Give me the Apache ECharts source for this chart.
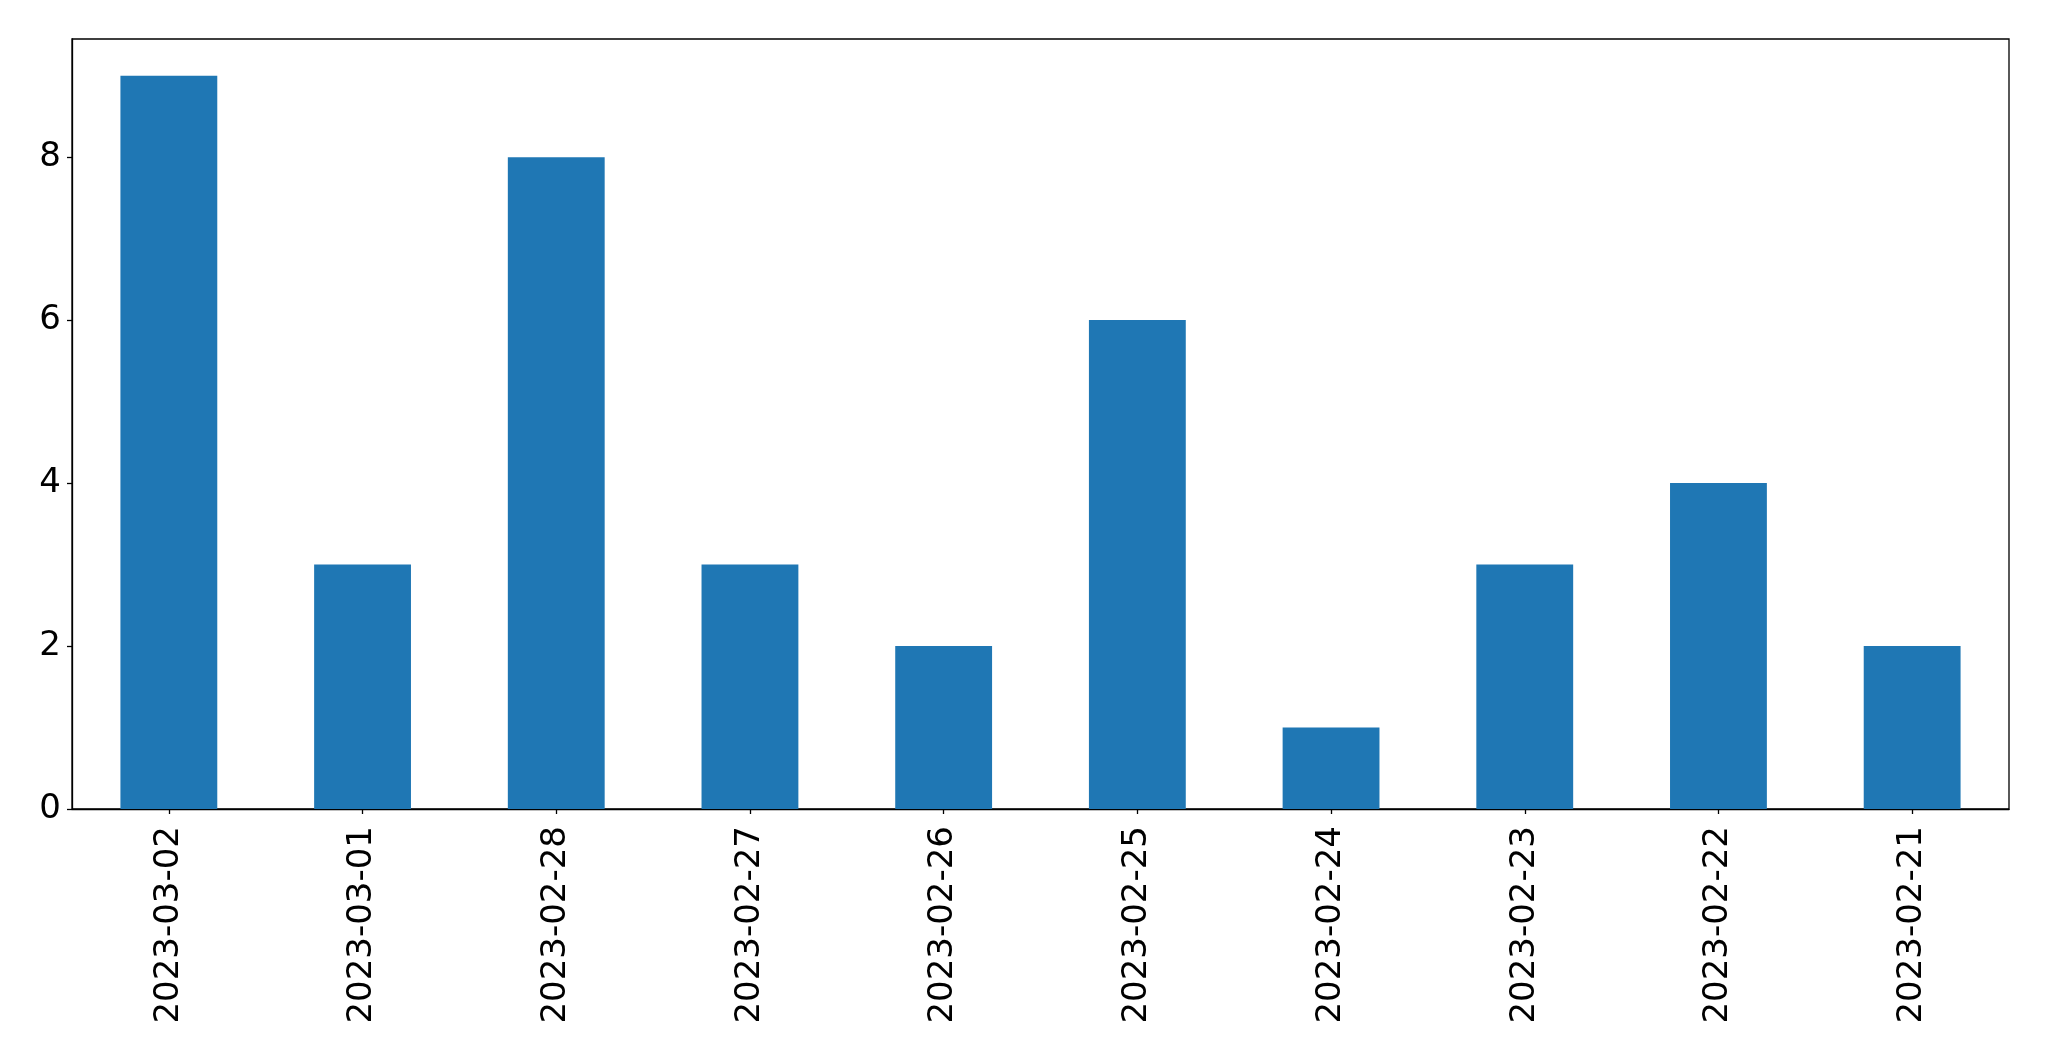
<!DOCTYPE html>
<html><head><meta charset="utf-8">
<script src="https://cdn.jsdelivr.net/npm/echarts@6/dist/echarts.min.js"></script>
<style>html,body{margin:0;padding:0;background:#fff}#c{width:2049px;height:1061px}</style>
</head><body><div id="c"></div>
<script>
const categories = ['2023-03-02','2023-03-01','2023-02-28','2023-02-27','2023-02-26','2023-02-25','2023-02-24','2023-02-23','2023-02-22','2023-02-21'];
const values = [9,3,8,3,2,6,1,3,4,2];
const yTicks = [0,2,4,6,8];
const yMax = 9.45;

const chart = echarts.init(document.getElementById('c'), null, {renderer:'canvas'});
const font = 'DejaVu Sans';
chart.setOption({
  animation:false,
  backgroundColor:'#fff',
  grid:{left:72,right:40,top:39,bottom:252,show:true,borderColor:'#000',borderWidth:1.3,backgroundColor:'transparent'},
  xAxis:{
    type:'category',data:categories,boundaryGap:true,
    axisLine:{show:true,lineStyle:{color:'#000',width:1.3}},
    axisTick:{show:true,alignWithLabel:true,length:5,lineStyle:{color:'#000',width:1.3}},
    axisLabel:{rotate:90,margin:17,fontSize:34,fontFamily:font,color:'#000',interval:0},
    splitLine:{show:false}
  },
  yAxis:{
    type:'value',min:0,max:yMax,interval:2,
    axisLine:{show:true,lineStyle:{color:'#000',width:1.3}},
    axisTick:{show:true,length:5,lineStyle:{color:'#000',width:1.3},customValues:yTicks},
    axisLabel:{margin:11,fontSize:34,fontFamily:font,color:'#000',customValues:yTicks},
    splitLine:{show:false}
  },
  series:[{type:'bar',data:values,barWidth:'50%',itemStyle:{color:'#1f77b4'}}]
});
</script></body></html>
